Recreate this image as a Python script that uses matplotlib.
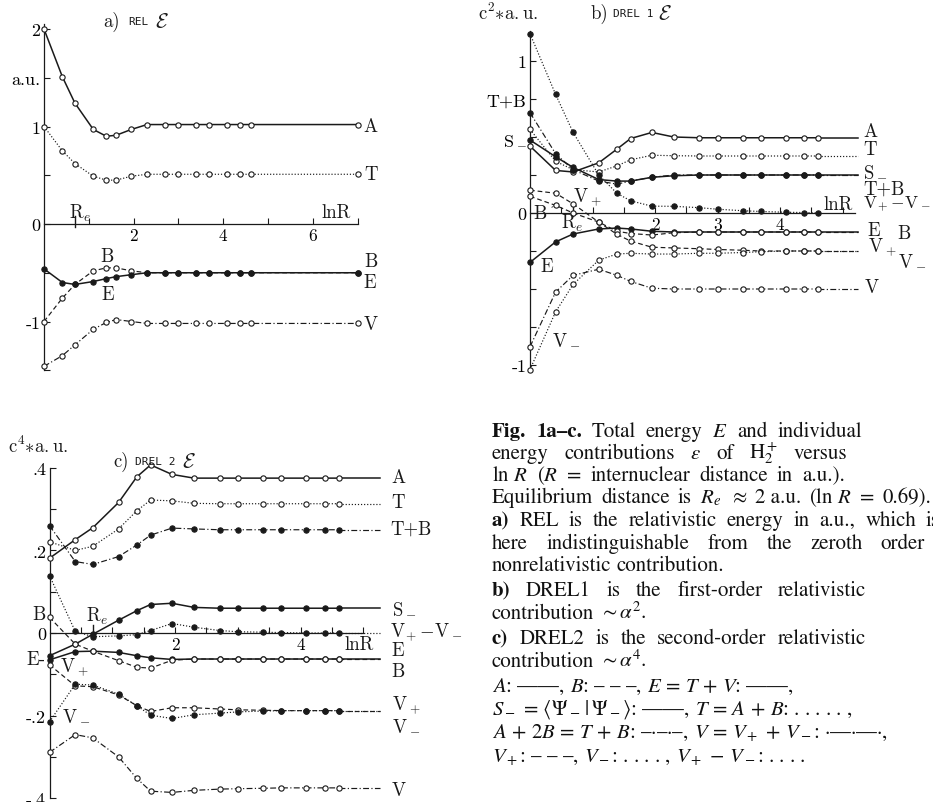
import matplotlib
matplotlib.use("Agg")
import matplotlib.pyplot as plt
from matplotlib.transforms import IdentityTransform

plt.rcParams["mathtext.fontset"] = "cm"
plt.rcParams["axes.unicode_minus"] = False

W, H = 933, 803
INK = "#1a1a1a"
RM = "cmr10"
FS = 13.5

# ln R for R = 1, 1.5, 2, 3, 4, 5, 7, 10, 15, 20, 30, 40, 60, 80, 100
lnR = [0.0, 0.41, 0.69, 1.10, 1.39, 1.61, 1.95, 2.30, 2.71, 3.00, 3.40, 3.69, 4.09, 4.38, 4.61]
lnR_rel = lnR + [7.0]
lnRe = 0.69

# a) REL, a.u.
A_rel = [2.00, 1.51, 1.24, 0.97, 0.90, 0.91, 0.97, 1.02, 1.02, 1.02, 1.02, 1.02, 1.02, 1.02, 1.02, 1.02]
T_rel = [1.00, 0.75, 0.62, 0.49, 0.45, 0.45, 0.49, 0.51, 0.51, 0.51, 0.51, 0.51, 0.51, 0.51, 0.51, 0.51]
B_rel = [-1.00, -0.76, -0.62, -0.48, -0.45, -0.45, -0.48, -0.50, -0.50, -0.50, -0.50, -0.50, -0.50, -0.50, -0.50, -0.50]
E_rel = [-0.46, -0.60, -0.62, -0.59, -0.56, -0.54, -0.52, -0.50, -0.50, -0.50, -0.50, -0.50, -0.50, -0.50, -0.50, -0.50]
V_rel = [-1.46, -1.35, -1.24, -1.08, -1.01, -0.98, -1.00, -1.02, -1.02, -1.02, -1.02, -1.02, -1.02, -1.02, -1.02, -1.02]

# b) DREL1, c^2 a.u.
A_d1 = [0.44, 0.28, 0.27, 0.33, 0.42, 0.49, 0.53, 0.50, 0.495, 0.495, 0.495, 0.495, 0.495, 0.495, 0.495]
T_d1 = [0.55, 0.34, 0.285, 0.27, 0.31, 0.35, 0.38, 0.377, 0.375, 0.375, 0.375, 0.375, 0.375, 0.375, 0.375]
S_d1 = [0.48, 0.37, 0.30, 0.22, 0.21, 0.21, 0.235, 0.245, 0.25, 0.25, 0.25, 0.25, 0.25, 0.25, 0.25]
TB_d1 = [0.66, 0.39, 0.285, 0.21, 0.19, 0.21, 0.235, 0.25, 0.25, 0.25, 0.25, 0.25, 0.25, 0.25, 0.25]
E_d1 = [-0.325, -0.19, -0.138, -0.105, -0.099, -0.105, -0.12, -0.125, -0.125, -0.125, -0.125, -0.125, -0.125, -0.125, -0.125]
B_d1 = [0.11, 0.05, 0.0, -0.06, -0.12, -0.135, -0.145, -0.13, -0.125, -0.125, -0.125, -0.125, -0.125, -0.125, -0.125]
Vp_d1 = [0.15, 0.13, 0.06, -0.06, -0.14, -0.185, -0.225, -0.23, -0.235, -0.24, -0.245, -0.25, -0.25, -0.25, -0.25]
Vm_d1 = [-1.03, -0.65, -0.47, -0.31, -0.27, -0.265, -0.27, -0.27, -0.265, -0.265, -0.26, -0.255, -0.25, -0.25, -0.25]
V_d1 = [-0.88, -0.52, -0.41, -0.37, -0.41, -0.45, -0.495, -0.50, -0.50, -0.50, -0.50, -0.50, -0.50, -0.50, -0.50]
Vd_d1 = [1.18, 0.78, 0.53, 0.25, 0.13, 0.08, 0.045, 0.044, 0.035, 0.025, 0.015, 0.01, 0.005, 0.003, 0.0]

# c) DREL2, c^4 a.u.
A_d2 = [0.181, 0.226, 0.255, 0.316, 0.378, 0.407, 0.384, 0.375, 0.375, 0.375, 0.375, 0.375, 0.375, 0.375, 0.375]
T_d2 = [0.221, 0.200, 0.210, 0.252, 0.296, 0.322, 0.320, 0.314, 0.313, 0.313, 0.313, 0.313, 0.313, 0.313, 0.313]
TB_d2 = [0.260, 0.173, 0.166, 0.185, 0.213, 0.237, 0.254, 0.252, 0.250, 0.250, 0.250, 0.250, 0.250, 0.250, 0.250]
S_d2 = [-0.055, -0.027, -0.003, 0.031, 0.054, 0.069, 0.072, 0.062, 0.060, 0.060, 0.060, 0.060, 0.060, 0.060, 0.060]
E_d2 = [-0.065, -0.045, -0.044, -0.047, -0.055, -0.060, -0.064, -0.063, -0.063, -0.063, -0.063, -0.063, -0.063, -0.063, -0.063]
B_d2 = [0.038, -0.027, -0.044, -0.067, -0.083, -0.085, -0.066, -0.063, -0.063, -0.063, -0.063, -0.063, -0.063, -0.063, -0.063]
Vp_d2 = [-0.077, -0.128, -0.130, -0.150, -0.176, -0.190, -0.181, -0.181, -0.184, -0.186, -0.187, -0.188, -0.188, -0.188, -0.188]
Vm_d2 = [-0.215, -0.124, -0.126, -0.148, -0.176, -0.199, -0.207, -0.198, -0.194, -0.191, -0.189, -0.188, -0.188, -0.188, -0.188]
V_d2 = [-0.289, -0.246, -0.254, -0.300, -0.352, -0.383, -0.386, -0.381, -0.378, -0.377, -0.376, -0.375, -0.375, -0.375, -0.375]
Vd_d2 = [0.139, 0.004, -0.009, -0.007, -0.004, 0.006, 0.023, 0.014, 0.006, 0.003, 0.002, 0.001, 0.0, 0.0, 0.0]

SOLID = "-"
DASH = (0, (4, 2.5))
DOT = (0, (1, 1.6))
DASHDOT = (0, (5, 2, 1, 2))

fig = plt.figure(figsize=(W / 100, H / 100), dpi=100)


def panel(x0, y0, sx, sy, xlim, ylim):
    # axes placed so that data (0,0) sits at pixel (x0, y0) with sx, sy px per unit
    left = x0 + xlim[0] * sx
    right = x0 + xlim[1] * sx
    bottom = y0 - ylim[0] * sy
    top = y0 - ylim[1] * sy
    ax = fig.add_axes([left / W, 1 - bottom / H, (right - left) / W, (bottom - top) / H])
    ax.set_xlim(xlim)
    ax.set_ylim(ylim)
    ax.patch.set_visible(False)
    for s in ("top", "right"):
        ax.spines[s].set_visible(False)
    for s in ("left", "bottom"):
        ax.spines[s].set_position(("data", 0))
        ax.spines[s].set_linewidth(0.9)
        ax.spines[s].set_color(INK)
    ax.tick_params(direction="in", length=4, width=0.8, color=INK, pad=2.5)
    return ax


def curve(ax, x, y, ls, filled, x_end=None):
    lw = 1.1 if ls == SOLID else 0.85
    ax.plot(x, y, ls=ls, color=INK, lw=lw, marker="o", ms=3.8,
            mfc=INK if filled else "white", mec=INK, mew=0.8, clip_on=False, zorder=3)
    if x_end is not None:
        ax.plot([x[-1], x_end], [y[-1], y[-1]], ls=ls, color=INK, lw=lw, clip_on=False)


def lab(ax, x, y, s, size=FS, ha="left", **kw):
    ax.text(x, y, s, fontsize=size, family=RM, ha=ha, va="center", color=INK, **kw)


def title(ax, x, y, tag, code, dx1, dx2):
    lab(ax, x, y, tag)
    ax.text(x + dx1, y, code, fontsize=8, family="DejaVu Sans Mono", va="center", color=INK)
    ax.text(x + dx2, y, r"$\mathcal{E}$", fontsize=15, va="center", color=INK)


def ticks(ax, xt, xl, yt, yl):
    ax.set_xticks(xt, xl, fontsize=12.5, family=RM)
    ax.set_yticks(yt, yl, fontsize=13, family=RM)


VDIFF = r"$\mathrm{V}_{\!+}\!-\!\mathrm{V}_-$"

# ---------------- a) REL ----------------
ax = panel(44, 225, 44.8, 97.5, (-0.9, 9.4), (-1.65, 2.2))
ax.spines["left"].set_bounds(-1.5, 2.05)
ax.spines["bottom"].set_bounds(0, 7.0)
ticks(ax, [1, 2, 3, 4, 5, 6, 7], ["", "2", "", "4", "", "6", ""],
      [-1.5, -1, -0.5, 0, 0.5, 1, 1.5, 2], ["", "-1", "", "0", "", "1", "a.u.", "2"])
ax.plot([lnRe, lnRe], [-0.03, 0.08], color=INK, lw=1.0)
curve(ax, lnR_rel, A_rel, SOLID, False)
curve(ax, lnR_rel, T_rel, DOT, False)
curve(ax, lnR_rel, B_rel, DASH, False)
curve(ax, lnR_rel, E_rel, SOLID, True)
curve(ax, lnR_rel, V_rel, DASHDOT, False)
for y, s in [(1.0, "A"), (0.51, "T"), (-0.38, "B"), (-0.60, "E"), (-1.03, "V")]:
    lab(ax, 7.14, y, s)
lab(ax, 1.25, -0.33, "B")
lab(ax, 1.29, -0.72, "E")
lab(ax, 0.56, 0.12, r"$\mathrm{R}_e$")
lab(ax, 6.2, 0.12, "lnR")
title(ax, 1.32, 2.08, "a)", "REL", 0.56, 1.16)

# ---------------- b) DREL1 ----------------
ax = panel(530, 214, 62.5, 152, (-0.6, 6.4), (-1.2, 1.35))
ax.spines["left"].set_bounds(-1.03, 1.2)
ax.spines["bottom"].set_bounds(0, 5.2)
ticks(ax, [0.5, 1, 1.5, 2, 2.5, 3, 3.5, 4, 4.5, 5], ["", "", "", "2", "", "3", "", "4", "", ""],
      [-1, -0.75, -0.5, -0.25, 0, 0.25, 0.5, 0.75, 1],
      ["-1", "", "", "", "0", "", r"$\mathrm{S}_-$", "T+B", "1"])
ax.plot([lnRe, lnRe], [-0.02, 0.05], color=INK, lw=1.0)
xe = 5.25
curve(ax, lnR, A_d1, SOLID, False, xe)
curve(ax, lnR, T_d1, DOT, False, xe)
curve(ax, lnR, S_d1, SOLID, True, xe)
curve(ax, lnR, TB_d1, DASHDOT, True, xe)
curve(ax, lnR, E_d1, SOLID, True, xe)
curve(ax, lnR, B_d1, DASH, False, xe)
curve(ax, lnR, Vp_d1, DASH, False, xe)
curve(ax, lnR, Vm_d1, DOT, False, xe)
curve(ax, lnR, V_d1, DASHDOT, False, xe)
curve(ax, lnR, Vd_d1, DOT, True)
for x, y, s in [(5.33, 0.54, "A"), (5.33, 0.42, "T"), (5.33, 0.28, r"$\mathrm{S}_-$"),
                (5.33, 0.16, "T+B"), (5.40, -0.11, "E"), (5.88, -0.13, "B"),
                (5.40, -0.22, r"$\mathrm{V}_+$"), (5.89, -0.30, r"$\mathrm{V}_-$"),
                (5.36, -0.49, "V")]:
    lab(ax, x, y, s)
lab(ax, 5.33, 0.06, VDIFF, size=12.5)
lab(ax, 4.69, 0.06, "lnR")
lab(ax, 0.69, 0.11, r"$\mathrm{V}_+$")
lab(ax, 0.50, -0.06, r"$\mathrm{R}_e$")
lab(ax, 0.16, -0.35, "E")
lab(ax, 0.35, -0.82, r"$\mathrm{V}_-$")
ax.annotate("B", xy=(lnR[1], B_d1[1]), xytext=(0.05, 0.0), fontsize=FS, family=RM,
            va="center", color=INK, arrowprops=dict(arrowstyle="-", lw=0.6, color=INK))
ax.text(-0.83, 1.32, r"$\mathrm{c^2{\ast}a.u.}$", fontsize=FS, va="center", color=INK)
title(ax, 0.96, 1.316, "b)", "DREL 1", 0.37, 1.09)

# ---------------- c) DREL2 ----------------
ax = panel(49.5, 634, 62.8, 413, (-0.7, 6.6), (-0.43, 0.45))
ax.spines["left"].set_bounds(-0.4, 0.4)
ax.spines["bottom"].set_bounds(0, 5.0)
ticks(ax, [0.5, 1, 1.5, 2, 2.5, 3, 3.5, 4, 4.5, 5], ["", "", "", "2", "", "", "", "4", "", ""],
      [-0.4, -0.3, -0.2, -0.1, 0, 0.1, 0.2, 0.3, 0.4],
      ["-.4", "", "-.2", "", "0", "", ".2", "", ".4"])
ax.plot([lnRe, lnRe], [-0.005, 0.02], color=INK, lw=1.0)
xe = 5.26
curve(ax, lnR, A_d2, SOLID, False, xe)
curve(ax, lnR, T_d2, DOT, False, xe)
curve(ax, lnR, TB_d2, DASHDOT, True, xe)
curve(ax, lnR, S_d2, SOLID, True, xe)
curve(ax, lnR, E_d2, SOLID, True, xe)
curve(ax, lnR, B_d2, DASH, False, xe)
curve(ax, lnR, Vp_d2, DASH, False, xe)
curve(ax, lnR, Vm_d2, DOT, True, xe)
curve(ax, lnR, V_d2, DASHDOT, False, xe)
curve(ax, lnR, Vd_d2, DOT, True, xe)
for x, y, s in [(5.45, 0.378, "A"), (5.45, 0.317, "T"), (5.42, 0.252, "T+B"),
                (5.45, 0.063, r"$\mathrm{S}_-$"), (5.45, -0.042, "E"), (5.45, -0.092, "B"),
                (5.45, -0.172, r"$\mathrm{V}_+$"), (5.45, -0.22, r"$\mathrm{V}_-$"),
                (5.45, -0.38, "V")]:
    lab(ax, x, y, s)
lab(ax, 5.42, 0.003, VDIFF)
lab(ax, 4.7, -0.027, "lnR")
lab(ax, 0.58, 0.042, r"$\mathrm{R}_e$")
lab(ax, 0.17, -0.08, r"$\mathrm{V}_+$")
lab(ax, 0.20, -0.196, r"$\mathrm{V}_-$")
lab(ax, -0.28, 0.046, "B")
lab(ax, -0.36, -0.063, "E-")
ax.text(-0.66, 0.453, r"$\mathrm{c^4{\ast}a.u.}$", fontsize=FS, va="center", color=INK)
title(ax, 1.01, 0.416, "c)", "DREL 2", 0.35, 1.1)

# ---------------- caption ----------------
renderer = fig.canvas.get_renderer()
CAP_FS = 15
CAP_LEFT = 492


def caption_line(tokens, y_mid, right=None):
    items = []
    for s, bold in tokens:
        t = fig.text(0, 0, s, transform=IdentityTransform(), fontsize=CAP_FS,
                     family="STIXGeneral", math_fontfamily="stix",
                     fontweight="bold" if bold else "normal", ha="left", va="baseline",
                     color="#111111")
        items.append(t)
    widths = [t.get_window_extent(renderer).width for t in items]
    gap = CAP_FS * 100 / 72 * 0.25
    if right is not None and len(items) > 1:
        gap = max(gap * 0.7, (right - CAP_LEFT - sum(widths)) / (len(items) - 1))
    x = CAP_LEFT
    for t, w in zip(items, widths):
        t.set_position((x, H - y_mid - 5))
        x += w + gap


def words(s, bold=()):
    return [(w, i in bold) for i, w in enumerate(s.split("|"))]


caption_line(words("Fig.|1a–c.|Total|energy|$E$|and|individual", bold=(0, 1)), 432, 862)
caption_line(words(r"energy|contributions|$\varepsilon$|of|$\mathrm{H}_2^+$|versus"), 454, 847)
caption_line(words(r"ln $R$|($R$|=|internuclear|distance|in|a.u.)."), 476, 845)
caption_line(words(r"Equilibrium|distance|is|$R_e$|$\approx$|2 a.u.|(ln $R$|=|0.69)."), 498, 931)
caption_line(words("a)|REL|is|the|relativistic|energy|in|a.u.,|which|is", bold=(0,)), 521, 940)
caption_line(words("here|indistinguishable|from|the|zeroth|order"), 544, 925)
caption_line(words("nonrelativistic|contribution."), 566)
caption_line(words("b)|DREL1|is|the|first-order|relativistic", bold=(0,)), 591, 866)
caption_line(words(r"contribution|$\sim\alpha^2$."), 614)
caption_line(words("c)|DREL2|is|the|second-order|relativistic", bold=(0,)), 639, 866)
caption_line(words(r"contribution|$\sim\alpha^4$."), 662)
caption_line(words(r"$A$: ——,|$B$: – – –,|$E\,=\,T\,+\,V$: ——,"), 687)
caption_line(words(r"$S_-\,=\,\langle\mathit{\Psi}_-\,\vert\,\mathit{\Psi}_-\rangle$: ——,"
                   r"|$T\,=\,A\,+\,B$: . . . . . ,"), 710)
caption_line(words(r"$A\,+\,2B\,=\,T\,+\,B$: –·–·–,|$V\,=\,V_+\,+\,V_-$: ·—·—·,"), 733)
caption_line(words(r"$V_+$: – – –,|$V_-$: . . . . ,|$V_+\,-\,V_-$: . . . ."), 757)

fig.savefig("out.png", dpi=100)
